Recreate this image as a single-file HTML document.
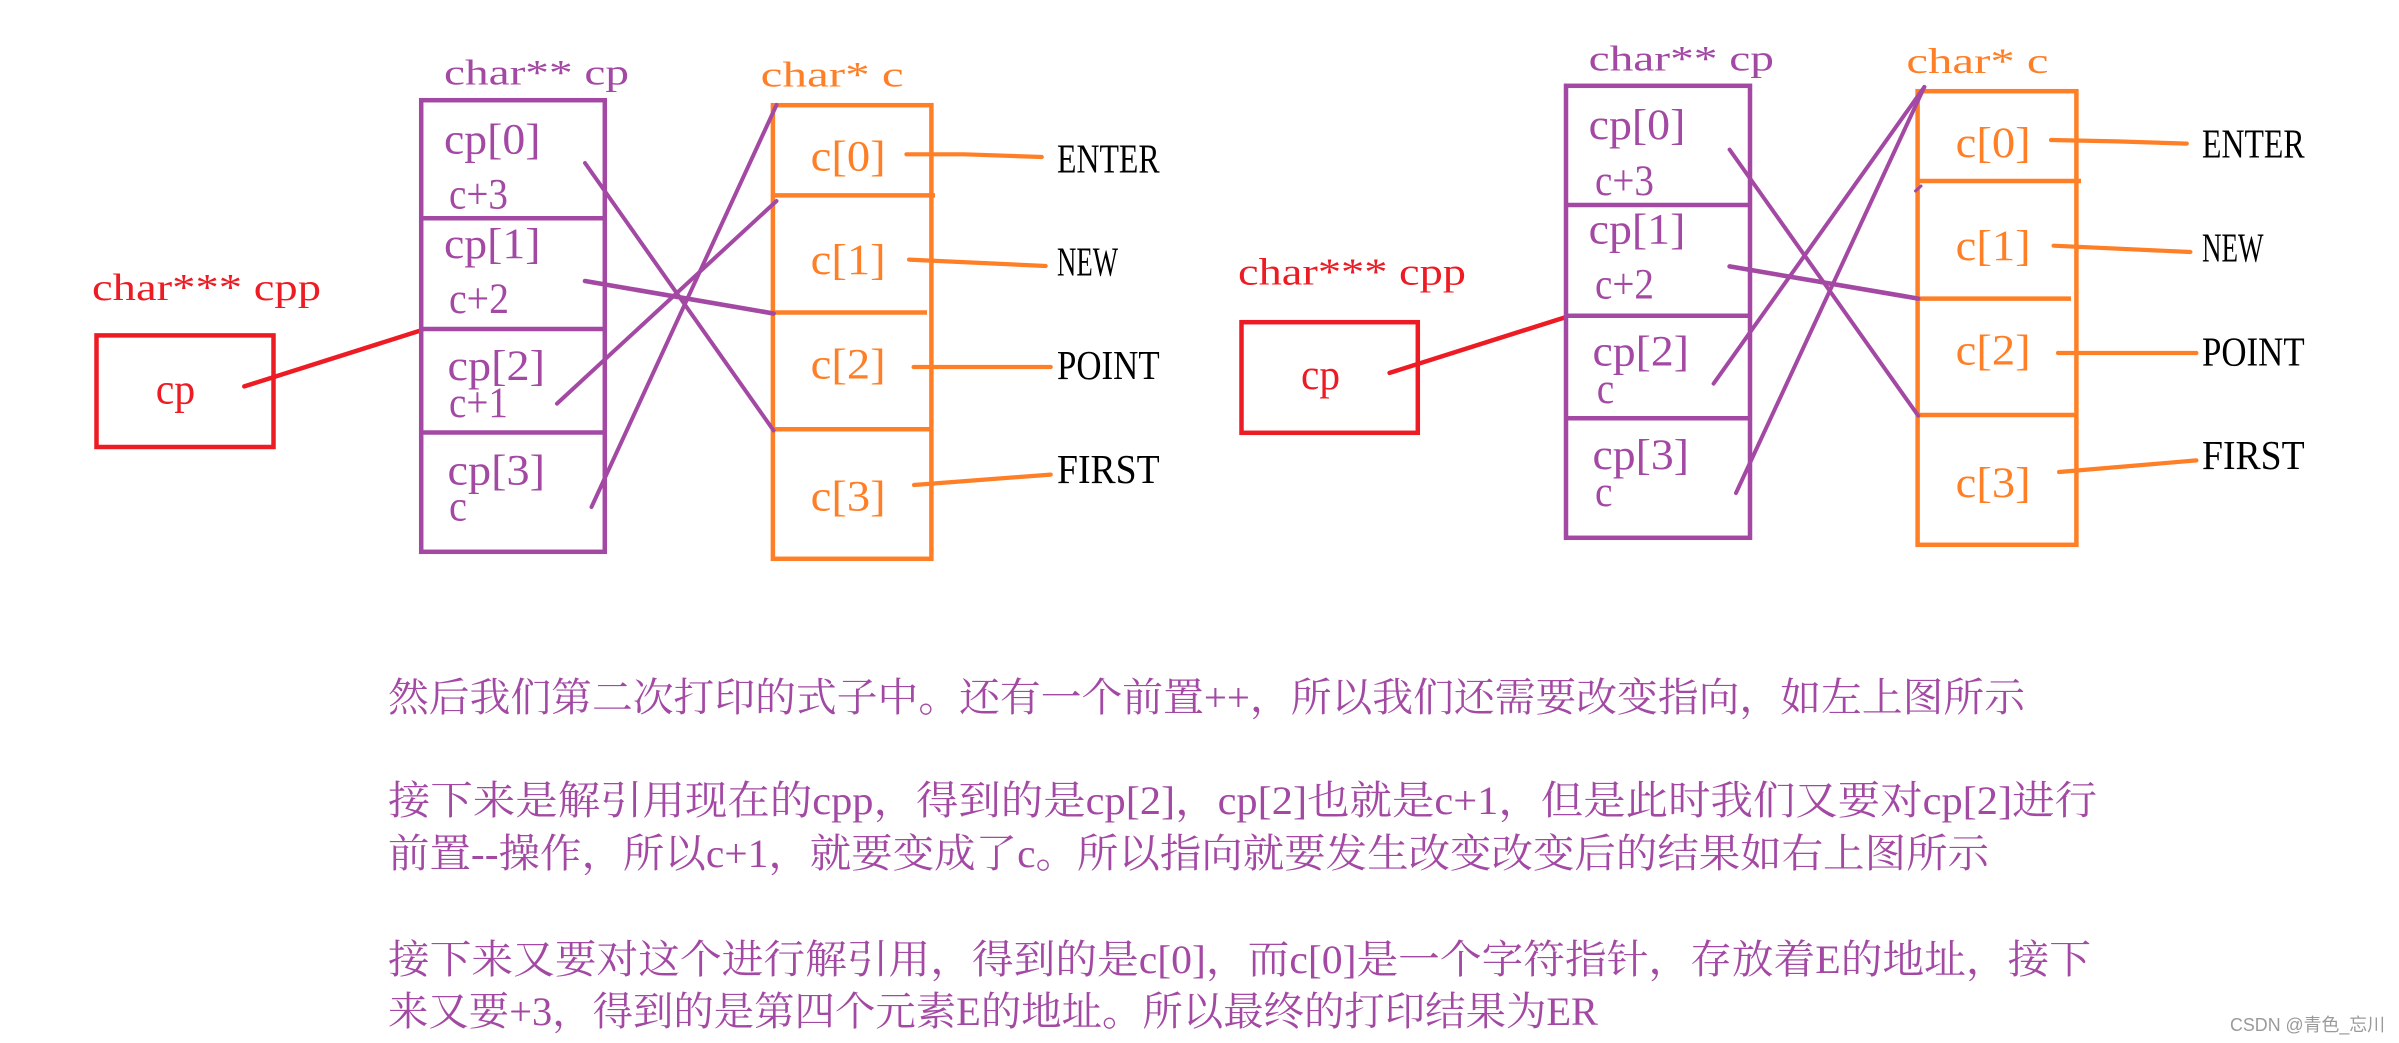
<!DOCTYPE html>
<html>
<head>
<meta charset="utf-8">
<style>
html,body{margin:0;padding:0;background:#fff;}
svg{display:block;}
.lbl{font-family:"Liberation Serif","Noto Serif CJK SC",serif;}
.para{font-family:"Liberation Serif","Noto Serif CJK SC",serif;font-size:40px;fill:#A349A4;}
</style>
</head>
<body>
<svg width="2399" height="1043" viewBox="0 0 2399 1043" xmlns="http://www.w3.org/2000/svg">
<rect x="0" y="0" width="2399" height="1043" fill="#fff"/>

<!-- ================= LEFT DIAGRAM ================= -->
<g fill="none" stroke-linecap="round" stroke-linejoin="miter">
  <!-- red box -->
  <rect x="96.5" y="335.4" width="177" height="111.6" stroke="#ED1C24" stroke-width="4.5"/>
  <line x1="244.3" y1="386.4" x2="419" y2="331" stroke="#ED1C24" stroke-width="4.5"/>

  <!-- purple box -->
  <rect x="421.2" y="100.2" width="183.6" height="451.6" stroke="#A349A4" stroke-width="4.5"/>
  <line x1="421.2" y1="218.2" x2="604.8" y2="218.2" stroke="#A349A4" stroke-width="4.5" stroke-linecap="butt"/>
  <line x1="421.2" y1="329" x2="604.8" y2="329" stroke="#A349A4" stroke-width="4.5" stroke-linecap="butt"/>
  <line x1="421.2" y1="432.5" x2="604.8" y2="432.5" stroke="#A349A4" stroke-width="4.5" stroke-linecap="butt"/>

  <!-- orange box -->
  <rect x="772.9" y="105.2" width="158.5" height="453.6" stroke="#FF7F27" stroke-width="4.5"/>
  <line x1="772.9" y1="195.4" x2="935" y2="195.4" stroke="#FF7F27" stroke-width="4.5" stroke-linecap="butt"/>
  <line x1="772.9" y1="312.5" x2="927" y2="312.5" stroke="#FF7F27" stroke-width="4.5" stroke-linecap="butt"/>
  <line x1="772.9" y1="429.3" x2="931.4" y2="429.3" stroke="#FF7F27" stroke-width="4.5" stroke-linecap="butt"/>

  <!-- orange connectors -->
  <polyline points="906.4,154.3 964,154.3 1041.8,157" stroke="#FF7F27" stroke-width="4.2"/>
  <line x1="909" y1="259.6" x2="1045.7" y2="266" stroke="#FF7F27" stroke-width="4.2"/>
  <line x1="913.6" y1="367" x2="1050.7" y2="367" stroke="#FF7F27" stroke-width="4.2"/>
  <line x1="914" y1="485" x2="1050.7" y2="474.6" stroke="#FF7F27" stroke-width="4.2"/>

  <!-- purple crossing lines -->
  <line x1="585" y1="163" x2="773.6" y2="430.5" stroke="#A349A4" stroke-width="4"/>
  <line x1="585" y1="281" x2="773.6" y2="313.5" stroke="#A349A4" stroke-width="4.6"/>
  <line x1="557" y1="403.6" x2="776.5" y2="201" stroke="#A349A4" stroke-width="4"/>
  <line x1="591.5" y1="507" x2="776.5" y2="105" stroke="#A349A4" stroke-width="4"/>
</g>

<!-- left texts -->
<g class="lbl">
  <text x="92" y="300" font-size="38" fill="#ED1C24" textLength="229" lengthAdjust="spacingAndGlyphs">char*** cpp</text>
  <text x="444" y="84.6" font-size="36" fill="#A349A4" textLength="185" lengthAdjust="spacingAndGlyphs">char** cp</text>
  <text x="760.7" y="86.4" font-size="36" fill="#FF7F27" textLength="143" lengthAdjust="spacingAndGlyphs">char* c</text>

  <text x="155.7" y="403.6" font-size="43" fill="#ED1C24" textLength="39.5" lengthAdjust="spacingAndGlyphs">cp</text>

  <text x="444" y="153.6" font-size="43" fill="#A349A4" textLength="96.5" lengthAdjust="spacingAndGlyphs">cp[0]</text>
  <text x="449" y="208.6" font-size="43" fill="#A349A4" textLength="59" lengthAdjust="spacingAndGlyphs">c+3</text>
  <text x="444" y="258" font-size="43" fill="#A349A4" textLength="96.5" lengthAdjust="spacingAndGlyphs">cp[1]</text>
  <text x="449" y="313" font-size="43" fill="#A349A4" textLength="60" lengthAdjust="spacingAndGlyphs">c+2</text>
  <text x="447.5" y="380" font-size="43" fill="#A349A4" textLength="97.5" lengthAdjust="spacingAndGlyphs">cp[2]</text>
  <text x="449" y="416.8" font-size="43" fill="#A349A4" textLength="59" lengthAdjust="spacingAndGlyphs">c+1</text>
  <text x="447.5" y="484.6" font-size="43" fill="#A349A4" textLength="97.5" lengthAdjust="spacingAndGlyphs">cp[3]</text>
  <text x="449" y="520.4" font-size="43" fill="#A349A4" textLength="18" lengthAdjust="spacingAndGlyphs">c</text>

  <text x="810.7" y="170.4" font-size="43" fill="#FF7F27" textLength="75" lengthAdjust="spacingAndGlyphs">c[0]</text>
  <text x="810.7" y="273.9" font-size="43" fill="#FF7F27" textLength="75" lengthAdjust="spacingAndGlyphs">c[1]</text>
  <text x="810.7" y="378.6" font-size="43" fill="#FF7F27" textLength="75" lengthAdjust="spacingAndGlyphs">c[2]</text>
  <text x="810.7" y="510.7" font-size="43" fill="#FF7F27" textLength="75" lengthAdjust="spacingAndGlyphs">c[3]</text>

  <text x="1057" y="172.3" font-size="41" fill="#000" textLength="102.6" lengthAdjust="spacingAndGlyphs">ENTER</text>
  <text x="1057" y="275.7" font-size="41" fill="#000" textLength="61" lengthAdjust="spacingAndGlyphs">NEW</text>
  <text x="1057" y="379" font-size="41" fill="#000" textLength="102.6" lengthAdjust="spacingAndGlyphs">POINT</text>
  <text x="1057" y="483" font-size="41" fill="#000" textLength="102.6" lengthAdjust="spacingAndGlyphs">FIRST</text>
</g>

<!-- ================= RIGHT DIAGRAM ================= -->
<g fill="none" stroke-linecap="round" stroke-linejoin="miter">
  <rect x="1241.5" y="322.2" width="176.3" height="110.6" stroke="#ED1C24" stroke-width="4.5"/>
  <line x1="1389.6" y1="372.9" x2="1564.6" y2="317.5" stroke="#ED1C24" stroke-width="4.5"/>

  <rect x="1566" y="85.8" width="184" height="452" stroke="#A349A4" stroke-width="4.5"/>
  <line x1="1566" y1="205" x2="1750" y2="205" stroke="#A349A4" stroke-width="4.5" stroke-linecap="butt"/>
  <line x1="1566" y1="315.7" x2="1750" y2="315.7" stroke="#A349A4" stroke-width="4.5" stroke-linecap="butt"/>
  <line x1="1566" y1="418.2" x2="1750" y2="418.2" stroke="#A349A4" stroke-width="4.5" stroke-linecap="butt"/>

  <rect x="1917.6" y="91.2" width="158.8" height="453.6" stroke="#FF7F27" stroke-width="4.5"/>
  <line x1="1917.6" y1="181" x2="2081" y2="181" stroke="#FF7F27" stroke-width="4.5" stroke-linecap="butt"/>
  <line x1="1917.6" y1="298.6" x2="2071" y2="298.6" stroke="#FF7F27" stroke-width="4.5" stroke-linecap="butt"/>
  <line x1="1917.6" y1="415" x2="2076.4" y2="415" stroke="#FF7F27" stroke-width="4.5" stroke-linecap="butt"/>

  <polyline points="2051,140 2117,141.4 2186.8,143.6" stroke="#FF7F27" stroke-width="4.2"/>
  <line x1="2053.6" y1="245.7" x2="2190.4" y2="252" stroke="#FF7F27" stroke-width="4.2"/>
  <line x1="2058" y1="353" x2="2196.4" y2="353" stroke="#FF7F27" stroke-width="4.2"/>
  <line x1="2059" y1="472" x2="2196.4" y2="460.4" stroke="#FF7F27" stroke-width="4.2"/>

  <line x1="1729.6" y1="149.6" x2="1918.2" y2="415.7" stroke="#A349A4" stroke-width="4"/>
  <line x1="1729.6" y1="266.4" x2="1918.2" y2="298.6" stroke="#A349A4" stroke-width="4.6"/>
  <line x1="1713.6" y1="383.6" x2="1924.3" y2="87" stroke="#A349A4" stroke-width="4"/>
  <line x1="1736" y1="493" x2="1924.3" y2="87" stroke="#A349A4" stroke-width="4"/>
  <line x1="1915.5" y1="191" x2="1921" y2="186" stroke="#A349A4" stroke-width="3"/>
</g>

<g class="lbl">
  <text x="1238" y="284.6" font-size="38" fill="#ED1C24" textLength="228" lengthAdjust="spacingAndGlyphs">char*** cpp</text>
  <text x="1588.6" y="70.4" font-size="36" fill="#A349A4" textLength="185.4" lengthAdjust="spacingAndGlyphs">char** cp</text>
  <text x="1906.4" y="72.9" font-size="36" fill="#FF7F27" textLength="142.2" lengthAdjust="spacingAndGlyphs">char* c</text>

  <text x="1301" y="389" font-size="43" fill="#ED1C24" textLength="39" lengthAdjust="spacingAndGlyphs">cp</text>

  <text x="1588.6" y="139" font-size="43" fill="#A349A4" textLength="96.8" lengthAdjust="spacingAndGlyphs">cp[0]</text>
  <text x="1595" y="195" font-size="43" fill="#A349A4" textLength="59" lengthAdjust="spacingAndGlyphs">c+3</text>
  <text x="1588.6" y="243.6" font-size="43" fill="#A349A4" textLength="96.8" lengthAdjust="spacingAndGlyphs">cp[1]</text>
  <text x="1595" y="298.6" font-size="43" fill="#A349A4" textLength="59" lengthAdjust="spacingAndGlyphs">c+2</text>
  <text x="1592.5" y="365.7" font-size="43" fill="#A349A4" textLength="96.5" lengthAdjust="spacingAndGlyphs">cp[2]</text>
  <text x="1596.8" y="403" font-size="43" fill="#A349A4" textLength="17.5" lengthAdjust="spacingAndGlyphs">c</text>
  <text x="1592.5" y="469" font-size="43" fill="#A349A4" textLength="96.5" lengthAdjust="spacingAndGlyphs">cp[3]</text>
  <text x="1595" y="506" font-size="43" fill="#A349A4" textLength="17.5" lengthAdjust="spacingAndGlyphs">c</text>

  <text x="1955.7" y="156.8" font-size="43" fill="#FF7F27" textLength="75" lengthAdjust="spacingAndGlyphs">c[0]</text>
  <text x="1955.7" y="260" font-size="43" fill="#FF7F27" textLength="75" lengthAdjust="spacingAndGlyphs">c[1]</text>
  <text x="1955.7" y="364.6" font-size="43" fill="#FF7F27" textLength="75" lengthAdjust="spacingAndGlyphs">c[2]</text>
  <text x="1955.7" y="496.8" font-size="43" fill="#FF7F27" textLength="75" lengthAdjust="spacingAndGlyphs">c[3]</text>

  <text x="2202" y="157.5" font-size="41" fill="#000" textLength="102.6" lengthAdjust="spacingAndGlyphs">ENTER</text>
  <text x="2202" y="261.4" font-size="41" fill="#000" textLength="61.6" lengthAdjust="spacingAndGlyphs">NEW</text>
  <text x="2202" y="365.7" font-size="41" fill="#000" textLength="102.6" lengthAdjust="spacingAndGlyphs">POINT</text>
  <text x="2202" y="469" font-size="41" fill="#000" textLength="102.6" lengthAdjust="spacingAndGlyphs">FIRST</text>
</g>

<!-- ================= PARAGRAPH TEXT ================= -->
<g class="para">
  <text x="388" y="711" textLength="1637" lengthAdjust="spacingAndGlyphs">然后我们第二次打印的式子中。还有一个前置++，所以我们还需要改变指向，如左上图所示</text>
  <text x="388" y="814" textLength="1709" lengthAdjust="spacingAndGlyphs">接下来是解引用现在的cpp，得到的是cp[2]，cp[2]也就是c+1，但是此时我们又要对cp[2]进行</text>
  <text x="388" y="867" textLength="1601" lengthAdjust="spacingAndGlyphs">前置--操作，所以c+1，就要变成了c。所以指向就要发生改变改变后的结果如右上图所示</text>
  <text x="388" y="973" textLength="1703" lengthAdjust="spacingAndGlyphs">接下来又要对这个进行解引用，得到的是c[0]，而c[0]是一个字符指针，存放着E的地址，接下</text>
  <text x="388" y="1025" textLength="1210" lengthAdjust="spacingAndGlyphs">来又要+3，得到的是第四个元素E的地址。所以最终的打印结果为ER</text>
</g>

<!-- watermark -->
<text x="2230" y="1031" font-family="Liberation Sans, Noto Sans CJK SC, sans-serif" font-size="18" fill="#9a9a9a" textLength="155" lengthAdjust="spacingAndGlyphs">CSDN @青色_忘川</text>
</svg>
</body>
</html>
